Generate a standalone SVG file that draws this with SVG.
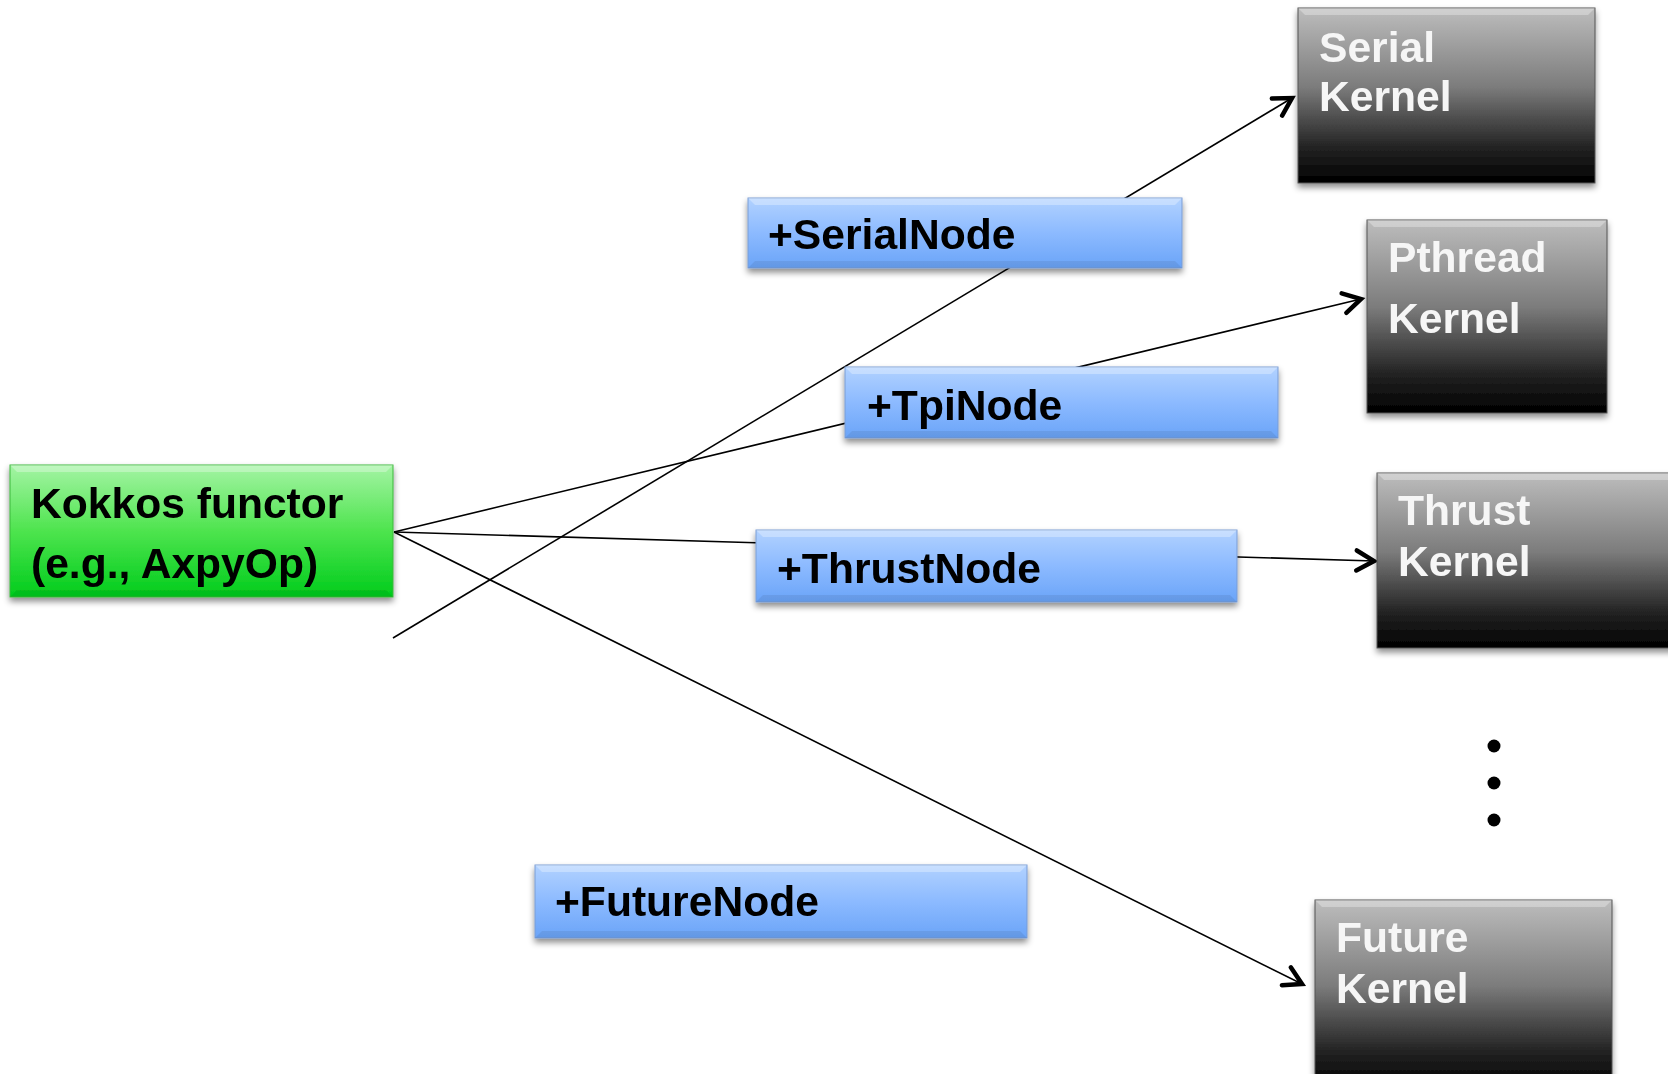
<svg xmlns="http://www.w3.org/2000/svg" width="1668" height="1074" viewBox="0 0 1668 1074">
<style>
.lbl{font-family:"Liberation Sans",Arial,sans-serif;font-weight:bold;font-size:42.6px;fill:#000}
.klbl{font-family:"Liberation Sans",Arial,sans-serif;font-weight:bold;font-size:42.6px;fill:#f6f6f6}
.conn{stroke:#000;stroke-width:1.6;fill:none}
.blue{fill:url(#gBlue);stroke:#7a9dd4;stroke-width:1}
.green{fill:url(#gGreen);stroke:#3cb83c;stroke-width:1}
.dark{fill:url(#gDark);stroke:#555;stroke-width:1}
.hi{fill:#fff;fill-opacity:0.3}
.lo{fill:#000;fill-opacity:0.07}
</style>
<defs>
<linearGradient id="gBlue" x1="0" y1="0" x2="0" y2="1">
<stop offset="0" stop-color="#b2d2ff"/>
<stop offset="0.5" stop-color="#8cbaff"/>
<stop offset="1" stop-color="#6aa4f8"/>
</linearGradient>
<linearGradient id="gGreen" x1="0" y1="0" x2="0" y2="1">
<stop offset="0" stop-color="#a4f4a4"/>
<stop offset="0.5" stop-color="#4ee44e"/>
<stop offset="1" stop-color="#00cc1c"/>
</linearGradient>
<linearGradient id="gDark" x1="0" y1="0" x2="0" y2="1">
<stop offset="0" stop-color="#bdbdbd"/>
<stop offset="0.45" stop-color="#7c7c7c"/>
<stop offset="0.8" stop-color="#222"/>
<stop offset="1" stop-color="#000"/>
</linearGradient>
<filter id="sh" x="-5%" y="-10%" width="110%" height="130%">
<feDropShadow dx="0" dy="4" stdDeviation="3" flood-color="#000" flood-opacity="0.45"/>
</filter>
<marker id="arr" markerUnits="userSpaceOnUse" markerWidth="30" markerHeight="30" viewBox="-18 -12 22 24" refX="0" refY="0" orient="auto">
<path d="M -14 -8 L 0 0 L -14 8" fill="none" stroke="#000" stroke-width="3.6" stroke-linecap="round" stroke-linejoin="miter"/>
</marker>
</defs>
<rect width="1668" height="1074" fill="#fff"/>

<g id="connectors">
<line class="conn" x1="393" y1="638" x2="1292" y2="98" marker-end="url(#arr)"/>
<line class="conn" x1="394" y1="532" x2="1361" y2="299" marker-end="url(#arr)"/>
<line class="conn" x1="394" y1="532" x2="1374" y2="561" marker-end="url(#arr)"/>
<line class="conn" x1="394" y1="532" x2="1302" y2="984" marker-end="url(#arr)"/>
</g>

<g id="kokkos-functor" filter="url(#sh)">
<rect class="green" x="10" y="465" width="383" height="132"/>
<polygon class="hi" points="10,465 393,465 386,472 17,472"/>
<polygon class="lo" points="10,597 393,597 386,590 17,590"/>
<text class="lbl" x="31" y="518">Kokkos functor</text>
<text class="lbl" x="31" y="578">(e.g., AxpyOp)</text>
</g>

<g id="serial-node" filter="url(#sh)">
<rect class="blue" x="748" y="198" width="434" height="70"/>
<polygon class="hi" points="748,198 1182,198 1175,205 755,205"/>
<polygon class="lo" points="748,268 1182,268 1175,261 755,261"/>
<text class="lbl" x="768" y="249">+SerialNode</text>
</g>

<g id="tpi-node" filter="url(#sh)">
<rect class="blue" x="845" y="367" width="433" height="71"/>
<polygon class="hi" points="845,367 1278,367 1271,374 852,374"/>
<polygon class="lo" points="845,438 1278,438 1271,431 852,431"/>
<text class="lbl" x="867" y="420">+TpiNode</text>
</g>

<g id="thrust-node" filter="url(#sh)">
<rect class="blue" x="756" y="530" width="481" height="72"/>
<polygon class="hi" points="756,530 1237,530 1230,537 763,537"/>
<polygon class="lo" points="756,602 1237,602 1230,595 763,595"/>
<text class="lbl" x="777" y="583">+ThrustNode</text>
</g>

<g id="future-node" filter="url(#sh)">
<rect class="blue" x="535" y="865" width="492" height="73"/>
<polygon class="hi" points="535,865 1027,865 1020,872 542,872"/>
<polygon class="lo" points="535,938 1027,938 1020,931 542,931"/>
<text class="lbl" x="555" y="916">+FutureNode</text>
</g>

<g id="serial-kernel" filter="url(#sh)">
<rect class="dark" x="1298" y="8" width="297" height="175"/>
<polygon class="hi" points="1298,8 1595,8 1588,15 1305,15"/>
<text class="klbl" x="1319" y="62">Serial</text>
<text class="klbl" x="1319" y="111">Kernel</text>
</g>

<g id="pthread-kernel" filter="url(#sh)">
<rect class="dark" x="1367" y="220" width="240" height="193"/>
<polygon class="hi" points="1367,220 1607,220 1600,227 1374,227"/>
<text class="klbl" x="1388" y="272">Pthread</text>
<text class="klbl" x="1388" y="333">Kernel</text>
</g>

<g id="thrust-kernel" filter="url(#sh)">
<rect class="dark" x="1377" y="473" width="300" height="175"/>
<polygon class="hi" points="1377,473 1677,473 1677,480 1384,480"/>
<text class="klbl" x="1398" y="525">Thrust</text>
<text class="klbl" x="1398" y="576">Kernel</text>
</g>

<g id="future-kernel" filter="url(#sh)">
<rect class="dark" x="1315" y="900" width="297" height="190"/>
<polygon class="hi" points="1315,900 1612,900 1605,907 1322,907"/>
<text class="klbl" x="1336" y="952">Future</text>
<text class="klbl" x="1336" y="1003">Kernel</text>
</g>

<g id="ellipsis">
<circle cx="1494" cy="746" r="6.5" fill="#000"/>
<circle cx="1494" cy="783" r="6.5" fill="#000"/>
<circle cx="1494" cy="820" r="6.5" fill="#000"/>
</g>
</svg>
